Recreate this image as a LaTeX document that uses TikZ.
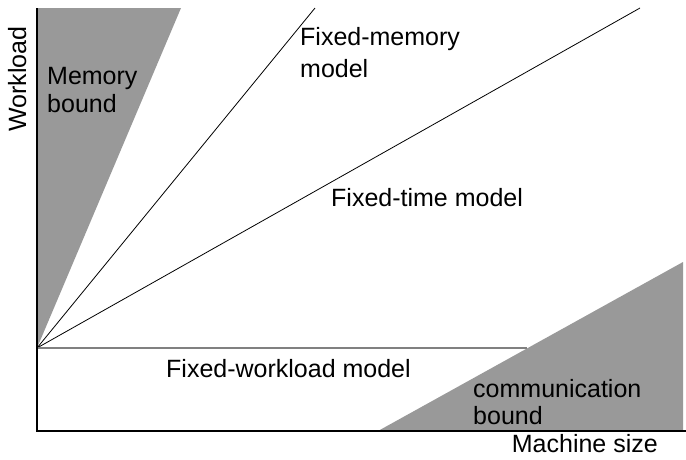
\documentclass[tikz,border=0pt]{standalone}
\usepackage{fontspec}
\setmainfont{Liberation Sans}
\tikzset{
  lbl/.style={inner sep=0pt, font=\fontsize{25}{29}\selectfont},
  bound/.style={fill=black!40, draw=none},
  model/.style={black, line width=0.8pt}
}
\begin{document}
\begin{tikzpicture}[x=1pt,y=-1pt]
    \useasboundingbox (0,0) rectangle (686,459);

    % Origin and line ends
    \coordinate (O) at (37,348);
    \coordinate (mem) at (315,8);
    \coordinate (time) at (640,8);
    \coordinate (work) at (527,348);

    % Shaded bounds
    \fill[bound] (37,8) -- (181,8) -- (O) -- cycle;
    \fill[bound] (378,431) -- (683,262) -- (683,431) -- cycle;

    % Model lines
    \draw[model] (O) -- (mem);
    \draw[model] (O) -- (time);
    \draw[black!50, line width=1.6pt] (O) -- (work);

    % Axes
    \draw[line width=1.2pt] (37,8) -- (37,431) -- (686,431);

    % Labels
    \node[lbl, rotate=90, anchor=base] (ylab) at (26,79) {Workload};
    \node[lbl, anchor=base east] (xlab) at (658,452) {Machine size};
    \node[lbl, font=\fontsize{25}{28}\selectfont, align=left, anchor=west] (membound) at (47,90) {Memory\\bound};
    \node[lbl, font=\fontsize{25}{27}\selectfont, align=left, anchor=west] (commbound) at (473,402.5) {communication\\bound};
    \node[lbl, font=\fontsize{25}{32}\selectfont, align=left, anchor=west] (fixmem) at (300,53) {Fixed-memory\\model};
    \node[lbl, anchor=base west] (fixtime) at (331,206) {Fixed-time model};
    \node[lbl, anchor=base west] (fixwork) at (166,377) {Fixed-workload model};
\end{tikzpicture}
\end{document}
